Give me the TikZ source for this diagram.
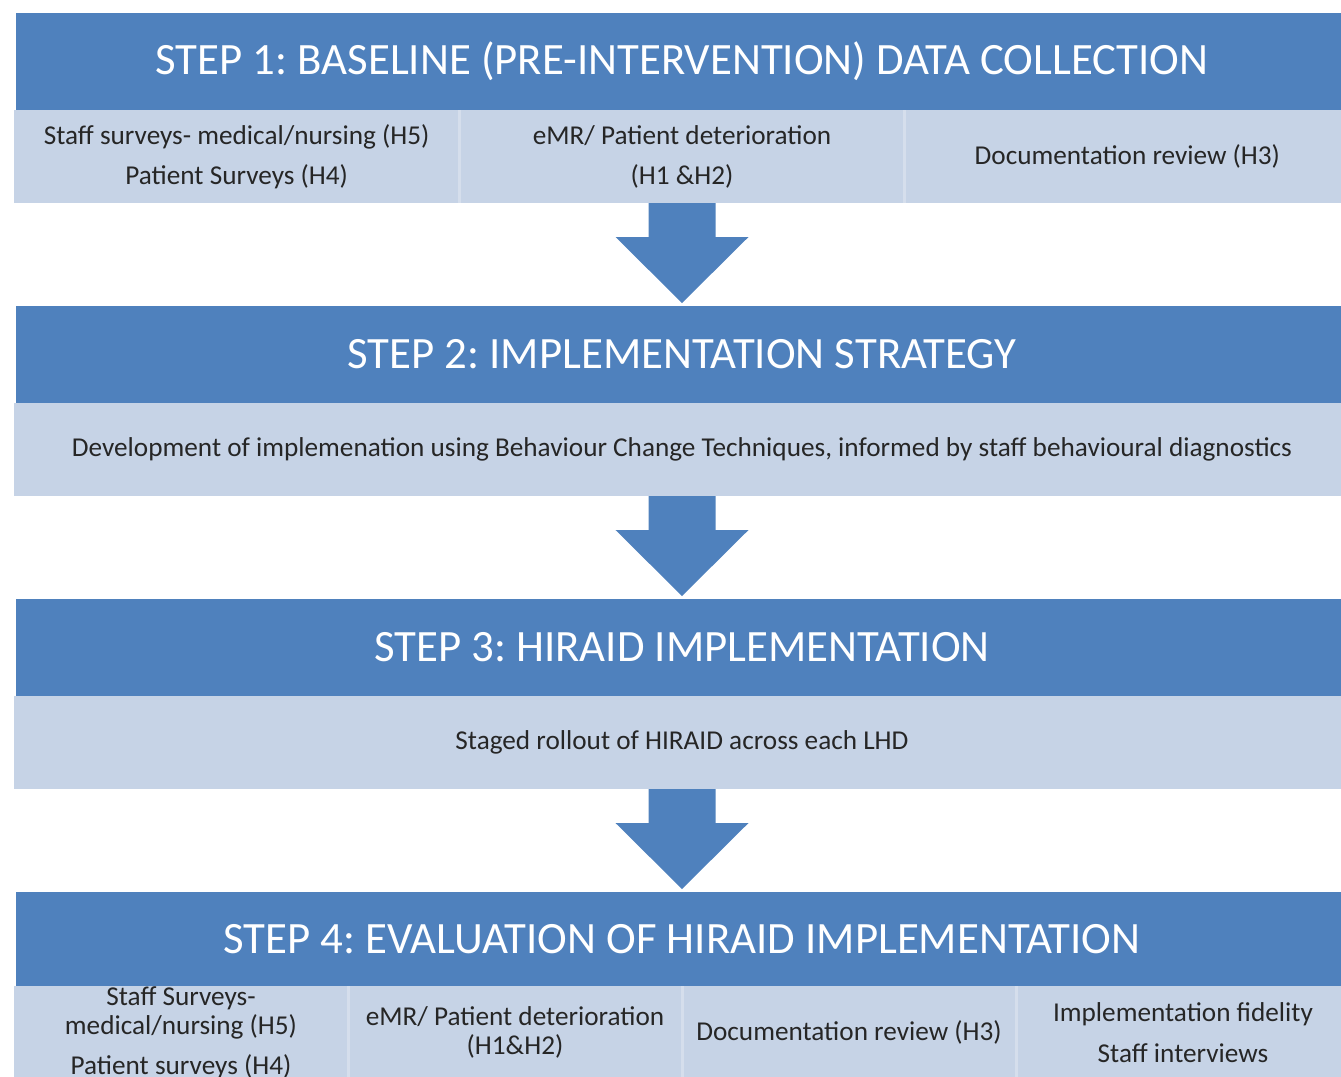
\documentclass[tikz,border=0pt]{standalone}
\usepackage{fontspec}
\setmainfont{Carlito}
\usepackage{tikz}
\usetikzlibrary{
  positioning,
  calc
}
\frenchspacing
\definecolor{stepblue}{HTML}{4F81BD}
\definecolor{bandblue}{HTML}{C6D3E6}
\definecolor{seplight}{HTML}{D5DEEC}
\tikzstyle{stephead}=[fill=stepblue, text=white, minimum width=26.64cm, minimum height=1.94cm, inner sep=0pt, outer sep=0pt, font=\fontsize{25.5}{30}\selectfont]
\tikzstyle{band}=[fill=bandblue, minimum width=26.72cm, minimum height=1.86cm, inner sep=0pt, outer sep=0pt]
\tikzstyle{celltext}=[align=center, inner sep=0pt, text=black!85, font=\fontsize{15.5}{22.8}\selectfont]
\tikzstyle{tightcell}=[celltext, font=\fontsize{15.5}{16.5}\selectfont]
\tikzstyle{divider}=[draw=seplight, line width=0.06cm]
\tikzstyle{flow}=[fill=stepblue]

\begin{document}
\begin{tikzpicture}
    % 画像の範囲
    \path[use as bounding box, clip] (0,0) rectangle (26.82,-21.52);

    % 各ステップの見出し
    \node[stephead] (hdr1) at (13.64,-1.23) {STEP 1: BASELINE (PRE-INTERVENTION) DATA COLLECTION};
    \node[band, below=0 of hdr1] (band1) {};
    \node[stephead, below=2.06cm of band1] (hdr2) {STEP 2: IMPLEMENTATION STRATEGY};
    \node[band, below=0 of hdr2] (band2) {};
    \node[stephead, below=2.06cm of band2] (hdr3) {STEP 3: HIRAID IMPLEMENTATION};
    \node[band, below=0 of hdr3] (band3) {};
    \node[stephead, minimum height=1.88cm, below=2.06cm of band3] (hdr4) {STEP 4: EVALUATION OF HIRAID IMPLEMENTATION};
    \node[band, below=0 of hdr4] (band4) {};

    % ステップ1の区切り線
    \draw[divider] ($(band1.north west)!1/3!(band1.north east)$) -- ($(band1.south west)!1/3!(band1.south east)$);
    \draw[divider] ($(band1.north west)!2/3!(band1.north east)$) -- ($(band1.south west)!2/3!(band1.south east)$);

    % ステップ1の内容
    \node[celltext] (base1) at ($(band1.west)!1/6!(band1.east)$) {Staff surveys- medical/nursing (H5)\\Patient Surveys (H4)};
    \node[celltext] (base2) at ($(band1.west)!1/2!(band1.east)$) {eMR/ Patient deterioration\\(H1 \&H2)};
    \node[celltext] (base3) at ($(band1.west)!5/6!(band1.east)$) {Documentation review (H3)};

    % ステップ2とステップ3の内容
    \node[celltext] (strategy) at (band2.center) {Development of implemenation using Behaviour Change Techniques, informed by staff behavioural diagnostics};
    \node[celltext] (rollout) at (band3.center) {Staged rollout of HIRAID across each LHD};

    % ステップ4の区切り線
    \foreach \f in {1/4, 1/2, 3/4}
      \draw[divider] ($(band4.north west)!\f!(band4.north east)$) -- ($(band4.south west)!\f!(band4.south east)$);

    % ステップ4の内容
    \node[tightcell] (eval1) at ($(band4.west)!1/8!(band4.east)$) {Staff Surveys-\\medical/nursing (H5)\\[0.22cm]Patient surveys (H4)};
    \node[tightcell] (eval2) at ($(band4.west)!3/8!(band4.east)$) {eMR/ Patient deterioration\\(H1\&H2)};
    \node[celltext] (eval3) at ($(band4.west)!5/8!(band4.east)$) {Documentation review (H3)};
    \node[celltext, font=\fontsize{15.5}{23}\selectfont] (eval4) at ($(band4.west)!7/8!(band4.east)$) {Implementation fidelity\\Staff interviews};

    % ステップ間の矢印
    \foreach \a/\b in {band1/hdr2, band2/hdr3, band3/hdr4}
      \fill[flow] let \p1=(\a.south), \p2=(\b.north) in
        (\x1-0.67cm,\y1) -- (\x1-0.67cm,\y2+1.38cm) -- (\x1-1.33cm,\y2+1.38cm)
        -- (\x1,\y2+0.06cm)
        -- (\x1+1.33cm,\y2+1.38cm) -- (\x1+0.67cm,\y2+1.38cm) -- (\x1+0.67cm,\y1) -- cycle;
\end{tikzpicture}
\end{document}
